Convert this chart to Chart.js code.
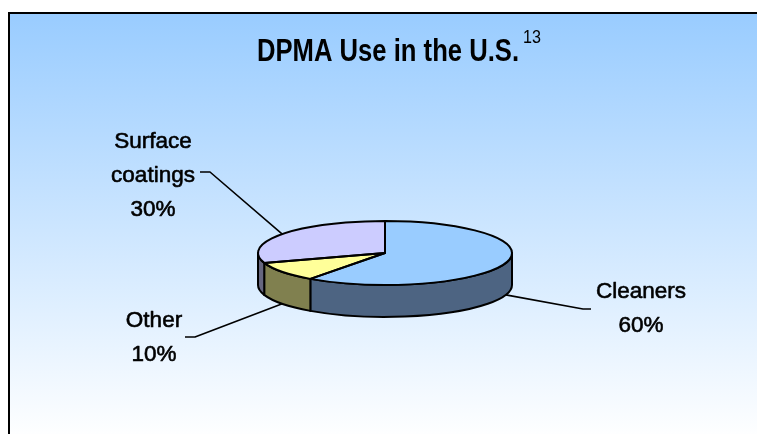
<!DOCTYPE html>
<html>
<head>
<meta charset="utf-8">
<script src="https://cdn.jsdelivr.net/npm/chart.js@4.4.1/dist/chart.umd.min.js"></script>
<style>
  html, body { margin: 0; padding: 0; background: #fff; overflow: hidden; }
  #wrap { width: 757px; height: 434px; }
</style>
</head>
<body>
<div id="wrap"><canvas id="dpmaChart" width="757" height="434"></canvas></div>
<script>
// data
const categories = ['Cleaners', 'Other', 'Surface coatings'];
const shares = [60, 10, 30];
const labelLines = [['Cleaners'], ['Other'], ['Surface', 'coatings']];
const titleText = 'DPMA Use in the U.S.';
const titleNote = '13';

// look
const topColors = ['#99ccff', '#ffff99', '#ccccff'];
const sideColors = ['#4d6482', '#80804f', '#666680'];
const TILT = 32 / 127;   // ellipse height / width
const DEPTH = 32;        // thickness of the pie

// where the labels sit: text centre, first baseline, elbow of the leader, anchor on side or top
const labelPos = [
    { x: 641, y: 298, elbow: [[591, 309], [583, 309]], onSide: true },
    { x: 154, y: 327, elbow: [[185, 337], [195, 337]], onSide: true },
    { x: 153, y: 148, elbow: [[200, 172], [210, 172]], onSide: false }
];

function pieGeom(chart) {
    const arc = chart.getDatasetMeta(0).data[0];
    return { cx: arc.x, cy: arc.y, rx: arc.outerRadius, ry: arc.outerRadius * TILT };
}

const backdrop = {
    id: 'backdrop',
    beforeDraw(chart) {
        const ctx = chart.ctx;
        ctx.save();
        ctx.fillStyle = '#fff';
        ctx.fillRect(0, 0, chart.width, chart.height);
        const grad = ctx.createLinearGradient(0, 13, 0, 440);
        grad.addColorStop(0, '#99ccff');
        grad.addColorStop(1, '#ffffff');
        ctx.fillStyle = grad;
        ctx.fillRect(9, 13, chart.width, chart.height);
        ctx.strokeStyle = '#000';
        ctx.lineWidth = 2;
        ctx.beginPath();
        ctx.moveTo(9, chart.height + 5);
        ctx.lineTo(9, 13);
        ctx.lineTo(chart.width + 5, 13);
        ctx.stroke();
        ctx.restore();
    }
};

const pie3d = {
    id: 'pie3d',
    beforeDatasetsDraw(chart) {
        const ctx = chart.ctx;
        const { cx, cy, rx, ry } = pieGeom(chart);
        const arcs = chart.getDatasetMeta(0).data;
        ctx.save();
        ctx.lineWidth = 2;
        ctx.lineJoin = 'round';
        ctx.strokeStyle = '#000';
        arcs.forEach((arc, i) => {
            const a0 = Math.max(arc.startAngle, 0);
            const a1 = Math.min(arc.endAngle, Math.PI);
            if (a1 <= a0) return;
            ctx.beginPath();
            ctx.ellipse(cx, cy, rx, ry, 0, a0, a1);
            ctx.ellipse(cx, cy + DEPTH, rx, ry, 0, a1, a0, true);
            ctx.closePath();
            ctx.fillStyle = sideColors[i];
            ctx.fill();
            ctx.stroke();
        });
        ctx.restore();
        // squash the top face that Chart.js draws next
        ctx.save();
        ctx.translate(cx, cy);
        ctx.scale(1, TILT);
        ctx.translate(-cx, -cy);
    },
    afterDatasetsDraw(chart) {
        const ctx = chart.ctx;
        ctx.restore();
        const { cx, cy, rx, ry } = pieGeom(chart);
        const arcs = chart.getDatasetMeta(0).data;
        ctx.save();
        ctx.lineWidth = 2;
        ctx.lineJoin = 'round';
        ctx.strokeStyle = '#000';
        arcs.forEach(arc => {
            ctx.beginPath();
            ctx.moveTo(cx, cy);
            ctx.ellipse(cx, cy, rx, ry, 0, arc.startAngle, arc.endAngle);
            ctx.closePath();
            ctx.stroke();
        });

        // leaders and labels
        ctx.lineWidth = 1.6;
        ctx.fillStyle = '#000';
        ctx.font = '22.5px "Liberation Sans", Arial, sans-serif';
        ctx.textAlign = 'center';
        ctx.textBaseline = 'alphabetic';
        arcs.forEach((arc, i) => {
            const pos = labelPos[i];
            const mid = (arc.startAngle + arc.endAngle) / 2;
            const ax = cx + rx * Math.cos(mid);
            const ay = cy + ry * Math.sin(mid) + (pos.onSide ? DEPTH : 0);
            ctx.beginPath();
            ctx.moveTo(pos.elbow[0][0], pos.elbow[0][1]);
            ctx.lineTo(pos.elbow[1][0], pos.elbow[1][1]);
            ctx.lineTo(ax, ay);
            ctx.stroke();
        });
        ctx.lineWidth = 0.6;
        arcs.forEach((arc, i) => {
            const pos = labelPos[i];
            const lines = labelLines[i].concat([shares[i] + '%']);
            lines.forEach((t, k) => {
                ctx.fillText(t, pos.x, pos.y + k * 34);
                ctx.strokeText(t, pos.x, pos.y + k * 34);
            });
        });
        ctx.restore();
    },
    afterDraw(chart) {
        const ctx = chart.ctx;
        ctx.save();
        ctx.fillStyle = '#000';
        ctx.textBaseline = 'alphabetic';
        ctx.textAlign = 'left';
        ctx.font = 'bold 32px "Liberation Sans", Arial, sans-serif';
        const w = ctx.measureText(titleText).width;
        ctx.translate(257, 61);
        ctx.scale(262 / w, 1);
        ctx.fillText(titleText, 0, 0);
        ctx.restore();
        ctx.save();
        ctx.fillStyle = '#000';
        ctx.font = '19px "Liberation Sans", Arial, sans-serif';
        ctx.translate(523, 43);
        ctx.scale(0.85, 1);
        ctx.fillText(titleNote, 0, 0);
        ctx.restore();
    }
};

new Chart(document.getElementById('dpmaChart'), {
    type: 'pie',
    data: {
        labels: categories,
        datasets: [{
            data: shares,
            backgroundColor: topColors,
            borderWidth: 0,
            hoverOffset: 0
        }]
    },
    options: {
        responsive: false,
        devicePixelRatio: 1,
        animation: false,
        events: [],
        layout: { padding: { left: 258, right: 245, top: 126, bottom: 54 } },
        plugins: {
            legend: { display: false },
            tooltip: { enabled: false },
            title: { display: false }
        }
    },
    plugins: [backdrop, pie3d]
});
</script>
</body>
</html>
